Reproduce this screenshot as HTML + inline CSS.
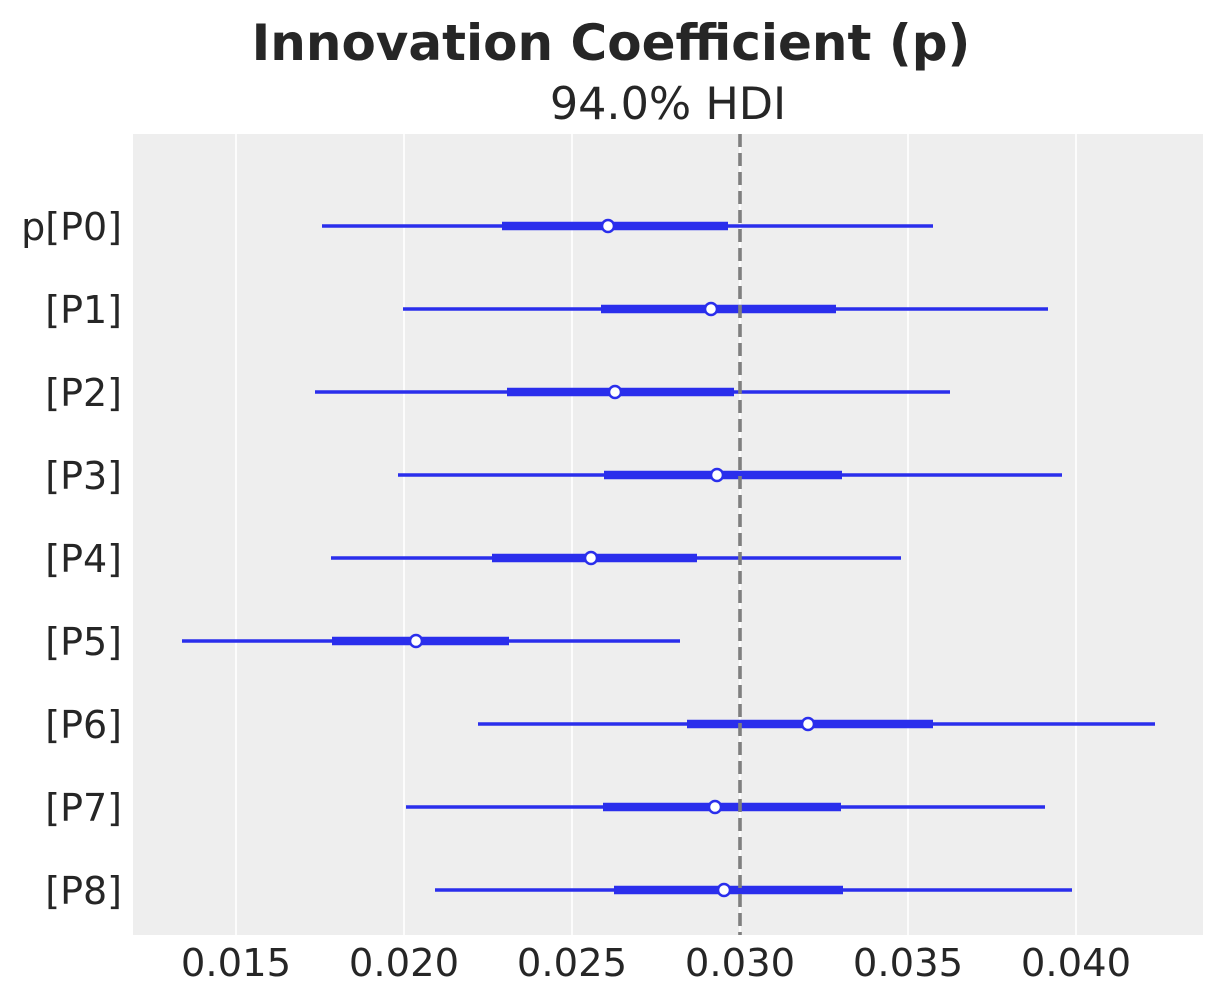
<!DOCTYPE html>
<html><head><meta charset="utf-8"><style>
body{margin:0;background:#fff;}
svg{display:block;font-family:"DejaVu Sans","Liberation Sans",sans-serif;}
</style></head><body>
<svg width="1223" height="1003" viewBox="0 0 1223 1003">
<rect x="133" y="134" width="1070" height="801" fill="#eeeeee"/>
<g stroke="#fff" stroke-width="1.6">
<line x1="236" y1="134" x2="236" y2="935"/><line x1="404" y1="134" x2="404" y2="935"/>
<line x1="572" y1="134" x2="572" y2="935"/><line x1="740" y1="134" x2="740" y2="935"/>
<line x1="908" y1="134" x2="908" y2="935"/><line x1="1076" y1="134" x2="1076" y2="935"/>
</g>
<text x="611" y="60" text-anchor="middle" font-size="50" font-weight="bold" fill="#262626">Innovation Coefficient (p)</text>
<text x="668" y="119" text-anchor="middle" font-size="44.5" fill="#262626">94.0% HDI</text>
<g font-size="38.5" fill="#262626" text-anchor="middle">
<text x="236" y="976">0.015</text><text x="404" y="976">0.020</text><text x="572" y="976">0.025</text>
<text x="740" y="976">0.030</text><text x="908" y="976">0.035</text><text x="1076" y="976">0.040</text>
</g>
<g font-size="38" fill="#262626" text-anchor="end">
<text x="122" y="240">p[P0]</text><text x="122" y="323">[P1]</text><text x="122" y="406">[P2]</text>
<text x="122" y="489">[P3]</text><text x="122" y="572">[P4]</text><text x="122" y="655">[P5]</text>
<text x="122" y="738">[P6]</text><text x="122" y="821">[P7]</text><text x="122" y="904">[P8]</text>
</g>
<g stroke="#2a2eec">
<line x1="322" y1="226" x2="933" y2="226" stroke-width="3.6"/><line x1="502" y1="226" x2="728" y2="226" stroke-width="8.5"/>
<line x1="403" y1="309" x2="1048" y2="309" stroke-width="3.6"/><line x1="601" y1="309" x2="836" y2="309" stroke-width="8.5"/>
<line x1="315" y1="392" x2="950" y2="392" stroke-width="3.6"/><line x1="507" y1="392" x2="734" y2="392" stroke-width="8.5"/>
<line x1="398" y1="475" x2="1062" y2="475" stroke-width="3.6"/><line x1="604" y1="475" x2="842" y2="475" stroke-width="8.5"/>
<line x1="331" y1="558" x2="901" y2="558" stroke-width="3.6"/><line x1="492" y1="558" x2="697" y2="558" stroke-width="8.5"/>
<line x1="182" y1="641" x2="680" y2="641" stroke-width="3.6"/><line x1="332" y1="641" x2="509" y2="641" stroke-width="8.5"/>
<line x1="478" y1="724" x2="1155" y2="724" stroke-width="3.6"/><line x1="687" y1="724" x2="933" y2="724" stroke-width="8.5"/>
<line x1="406" y1="807" x2="1045" y2="807" stroke-width="3.6"/><line x1="603" y1="807" x2="841" y2="807" stroke-width="8.5"/>
<line x1="435" y1="890" x2="1072" y2="890" stroke-width="3.6"/><line x1="614" y1="890" x2="843" y2="890" stroke-width="8.5"/>
</g>
<line x1="740" y1="134" x2="740" y2="935" stroke="#7f7f7f" stroke-width="3.6" stroke-dasharray="13,6"/>
<g fill="#fff" stroke="#2a2eec" stroke-width="2.5">
<circle cx="608" cy="226" r="6"/><circle cx="711" cy="309" r="6"/><circle cx="615" cy="392" r="6"/>
<circle cx="717" cy="475" r="6"/><circle cx="591" cy="558" r="6"/><circle cx="416" cy="641" r="6"/>
<circle cx="808" cy="724" r="6"/><circle cx="715" cy="807" r="6"/><circle cx="724" cy="890" r="6"/>
</g>
</svg>
</body></html>
